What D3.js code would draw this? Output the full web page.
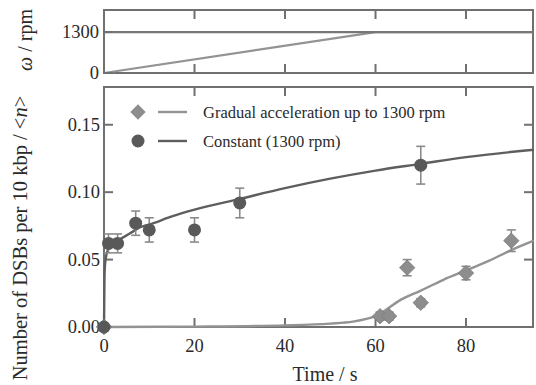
<!DOCTYPE html>
<html><head><meta charset="utf-8">
<script src="https://cdn.jsdelivr.net/npm/d3@7"></script>
</head><body style="margin:0">
<svg id="c" width="536" height="385" style="display:block;background:#fff"></svg>
<script>
// ---- data ----
const constT = [0, 1, 3, 7, 10, 20, 30, 70];
const constY = [0, 0.062, 0.062, 0.077, 0.072, 0.072, 0.092, 0.120];
const constErr = [0, 0.007, 0.007, 0.009, 0.009, 0.009, 0.011, 0.014];
const gradT = [0, 61, 63, 67, 70, 80, 90];
const gradY = [0, 0.008, 0.008, 0.044, 0.018, 0.040, 0.064];
const gradErr = [0, 0.003, 0.003, 0.006, 0.003, 0.005, 0.008];
// fitted curves
const constFitT = [0, 0.1, 0.2, 0.5, 1, 2, 3.5, 6, 8, 10, 15, 20, 30, 40, 50, 60, 70, 80, 95];
const constFitY = [0, 0.035, 0.045, 0.053, 0.058, 0.062, 0.065, 0.070, 0.074, 0.076, 0.082, 0.087, 0.095, 0.103, 0.110, 0.116, 0.121, 0.126, 0.1315];
const gradFitT = [0, 20, 40, 50, 55, 58, 60, 62, 65, 70, 75, 80, 85, 90, 95];
const gradFitY = [0, 0.0003, 0.0012, 0.0025, 0.004, 0.006, 0.008, 0.012, 0.019, 0.027, 0.035, 0.042, 0.049, 0.057, 0.064];
// rotation speed
const omegaConstT = [0, 95];
const omegaConstY = [1300, 1300];
const omegaGradT = [0, 60, 95];
const omegaGradY = [0, 1300, 1300];
const xTicks = [0, 20, 40, 60, 80];
const yTicks = [0, 0.05, 0.10, 0.15];
const wTicks = [0, 1300];
const legendLabels = ["Gradual acceleration up to 1300 rpm", "Constant (1300 rpm)"];

const svg = d3.select("#c");
const L = 104, R = 533;
const x = d3.scaleLinear().domain([0, 94.8]).range([L, R]);
const yw = d3.scaleLinear().domain([0, 2000]).range([73, 10]);
const y = d3.scaleLinear().domain([0, 0.178]).range([327, 87]);

const axisCol = "#707070", darkC = "#5e5e5e", lightC = "#939393";
const tick = 9;

function txt(g, size) {
  return g.append("text").attr("font-size", size).style("font-family", `"Liberation Serif"`).attr("fill", "#2a2a2a");
}

function frame(top, bottom) {
  const g = svg.append("g");
  g.append("rect").attr("x", L).attr("y", top).attr("width", R - L).attr("height", bottom - top)
    .attr("fill", "none").attr("stroke", axisCol).attr("stroke-width", 2);
  xTicks.filter(t => t > 0).forEach(t => {
    g.append("line").attr("x1", x(t)).attr("x2", x(t)).attr("y1", bottom).attr("y2", bottom - tick).attr("stroke", axisCol).attr("stroke-width", 2);
    g.append("line").attr("x1", x(t)).attr("x2", x(t)).attr("y1", top).attr("y2", top + tick).attr("stroke", axisCol).attr("stroke-width", 2);
  });
}

// ---- top panel ----
frame(10, 73);
svg.append("path").datum(d3.zip(omegaGradT, omegaGradY))
  .attr("d", d3.line().x(d => x(d[0])).y(d => yw(d[1]))).attr("fill", "none").attr("stroke", lightC).attr("stroke-width", 2.2);
svg.append("path").datum(d3.zip(omegaConstT, omegaConstY))
  .attr("d", d3.line().x(d => x(d[0])).y(d => yw(d[1]))).attr("fill", "none").attr("stroke", "#777").attr("stroke-width", 2.2);
wTicks.forEach(v => {
  svg.append("line").attr("x1", L).attr("x2", L + tick).attr("y1", yw(v)).attr("y2", yw(v)).attr("stroke", axisCol).attr("stroke-width", 2);
  txt(svg, 18.5).attr("x", 99).attr("y", yw(v) + 6).attr("text-anchor", "end").text(v);
});
const wl = txt(svg, 20).attr("transform", "translate(32,40) rotate(-90)").attr("text-anchor", "middle");
wl.append("tspan").attr("font-style", "italic").text("ω");
wl.append("tspan").text(" / rpm");

// ---- bottom panel ----
frame(87, 327);
yTicks.forEach(v => {
  if (v > 0) {
    svg.append("line").attr("x1", L).attr("x2", L + tick).attr("y1", y(v)).attr("y2", y(v)).attr("stroke", axisCol).attr("stroke-width", 2);
    svg.append("line").attr("x1", R).attr("x2", R - tick).attr("y1", y(v)).attr("y2", y(v)).attr("stroke", axisCol).attr("stroke-width", 2);
  }
  txt(svg, 18.5).attr("x", 100).attr("y", y(v) + 6).attr("text-anchor", "end").text(v.toFixed(2));
});
xTicks.forEach(t => {
  txt(svg, 18.5).attr("x", x(t)).attr("y", 352).attr("text-anchor", "middle").text(t);
});
txt(svg, 20).attr("x", 325).attr("y", 381).attr("text-anchor", "middle").text("Time / s");
const yl = txt(svg, 20.5).attr("transform", "translate(27,238) rotate(-90)").attr("text-anchor", "middle");
yl.append("tspan").text("Number of DSBs per 10 kbp / <");
yl.append("tspan").attr("font-style", "italic").text("n");
yl.append("tspan").text(">");

// fit curves
const fitLine = d3.line().x(d => x(d[0])).y(d => y(d[1])).curve(d3.curveMonotoneX);
svg.append("path").datum(d3.zip(gradFitT, gradFitY)).attr("d", fitLine)
  .attr("fill", "none").attr("stroke", lightC).attr("stroke-width", 2.4);
svg.append("path").datum(d3.zip(constFitT, constFitY)).attr("d", fitLine)
  .attr("fill", "none").attr("stroke", darkC).attr("stroke-width", 2.4);

// error bars
function errs(T, Y, E, col) {
  T.forEach((t, i) => {
    if (E[i] <= 0) return;
    const g = svg.append("g").attr("stroke", col).attr("stroke-width", 1.6);
    g.append("line").attr("x1", x(t)).attr("x2", x(t)).attr("y1", y(Y[i] - E[i])).attr("y2", y(Y[i] + E[i]));
    [Y[i] - E[i], Y[i] + E[i]].forEach(v => g.append("line").attr("x1", x(t) - 4.5).attr("x2", x(t) + 4.5).attr("y1", y(v)).attr("y2", y(v)));
  });
}
errs(gradT, gradY, gradErr, "#8a8a8a");
errs(constT, constY, constErr, "#8a8a8a");

const diamond = d3.symbol().type(d3.symbolDiamond2).size(150);
gradT.forEach((t, i) => {
  svg.append("path").attr("d", diamond).attr("transform", `translate(${x(t)},${y(gradY[i])})`)
    .attr("fill", "#8d8d8d").attr("stroke", "#7a7a7a").attr("stroke-width", 0.8);
});
constT.forEach((t, i) => {
  svg.append("circle").attr("cx", x(t)).attr("cy", y(constY[i])).attr("r", 6.5).attr("fill", "#595959");
});

// legend
const lg = svg.append("g");
lg.append("path").attr("d", diamond).attr("transform", "translate(138,112)").attr("fill", "#8d8d8d");
lg.append("line").attr("x1", 158).attr("x2", 187).attr("y1", 112).attr("y2", 112).attr("stroke", lightC).attr("stroke-width", 2.4);
lg.append("circle").attr("cx", 138).attr("cy", 141).attr("r", 6.5).attr("fill", "#595959");
lg.append("line").attr("x1", 158).attr("x2", 187).attr("y1", 141).attr("y2", 141).attr("stroke", darkC).attr("stroke-width", 2.4);
legendLabels.forEach((s, i) => {
  txt(lg, 16.5).attr("x", 203).attr("y", 112 + i * 29 + 6).text(s);
});
</script></body></html>
